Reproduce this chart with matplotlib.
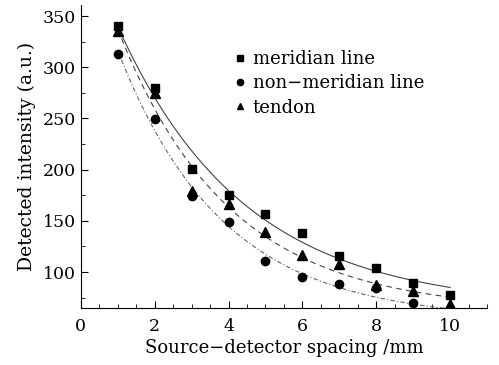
import numpy as np
import matplotlib
matplotlib.use("Agg")
import matplotlib.pyplot as plt
from matplotlib.ticker import MultipleLocator

# source-detector spacing (mm)
spacing = [1, 2, 3, 4, 5, 6, 7, 8, 9, 10]
meridian = [340, 280, 201, 175, 157, 138, 116, 104, 89, 78]
# last point (x=10) lies below the visible axis range
non_meridian = [313, 249, 174, 149, 111, 95, 88, 84, 70, 58]
tendon = [335, 275, 179, 166, 139, 117, 108, 87, 81, 69]


def exp_fit(x, y):
    # y = y0 + A*exp(-x/t), grid over t, linear lsq for y0, A
    x = np.asarray(x, float); y = np.asarray(y, float)
    best = None
    for t in np.linspace(0.5, 20, 800):
        M = np.column_stack([np.ones_like(x), np.exp(-x / t)])
        c, res, *_ = np.linalg.lstsq(M, y, rcond=None)
        r = np.sum((M @ c - y) ** 2)
        if best is None or r < best[0]:
            best = (r, c, t)
    _, c, t = best
    return lambda xx: c[0] + c[1] * np.exp(-xx / t)


plt.rcParams['font.family'] = ['DejaVu Serif']
plt.rcParams['font.size'] = 12.5

fig = plt.figure(figsize=(4.99, 3.65), dpi=100)
ax = fig.add_axes([0.162, 0.156, 0.814, 0.830])

xs = np.linspace(1, 10, 300)
f_m = exp_fit(spacing, meridian)
f_n = exp_fit(spacing, non_meridian)
f_t = exp_fit(spacing, tendon)
ax.plot(xs, f_m(xs), '-', color='#444444', lw=0.8)
ax.plot(xs, f_t(xs), '--', color='#444444', lw=0.8, dashes=(5, 4))
ax.plot(xs, f_n(xs), '-.', color='#666666', lw=0.8, dashes=(4, 2, 1, 2))

ax.plot(spacing, meridian, 's', color='black', ms=5.5, ls='none', label='meridian line')
ax.plot(spacing, non_meridian, 'o', color='black', ms=6, ls='none',
        label='non\u2212meridian line')
ax.plot(spacing, tendon, '^', color='black', ms=6.5, ls='none', label='tendon')

ax.set_xlim(0, 11)
ax.set_ylim(64.8, 360.7)
ax.xaxis.set_major_locator(MultipleLocator(2))
ax.xaxis.set_minor_locator(MultipleLocator(0.5))
ax.yaxis.set_major_locator(MultipleLocator(50))
ax.yaxis.set_minor_locator(MultipleLocator(25))
ax.tick_params(which='both', direction='in')
ax.tick_params(which='major', length=5)
ax.tick_params(which='minor', length=3)
ax.tick_params(axis='x', pad=7)
for s in ['top', 'right']:
    ax.spines[s].set_visible(False)

ax.set_xlabel('Source\u2212detector spacing /mm', labelpad=3, fontsize=13)
ax.set_ylabel('Detected intensity (a.u.)', labelpad=5, fontsize=13.5)

leg = ax.legend(loc='upper left', bbox_to_anchor=(0.33, 0.905), frameon=False,
                handletextpad=0.2, handlelength=1.0, markerscale=0.75,
                labelspacing=0.35, fontsize=13)

fig.savefig('out.png', dpi=100)
